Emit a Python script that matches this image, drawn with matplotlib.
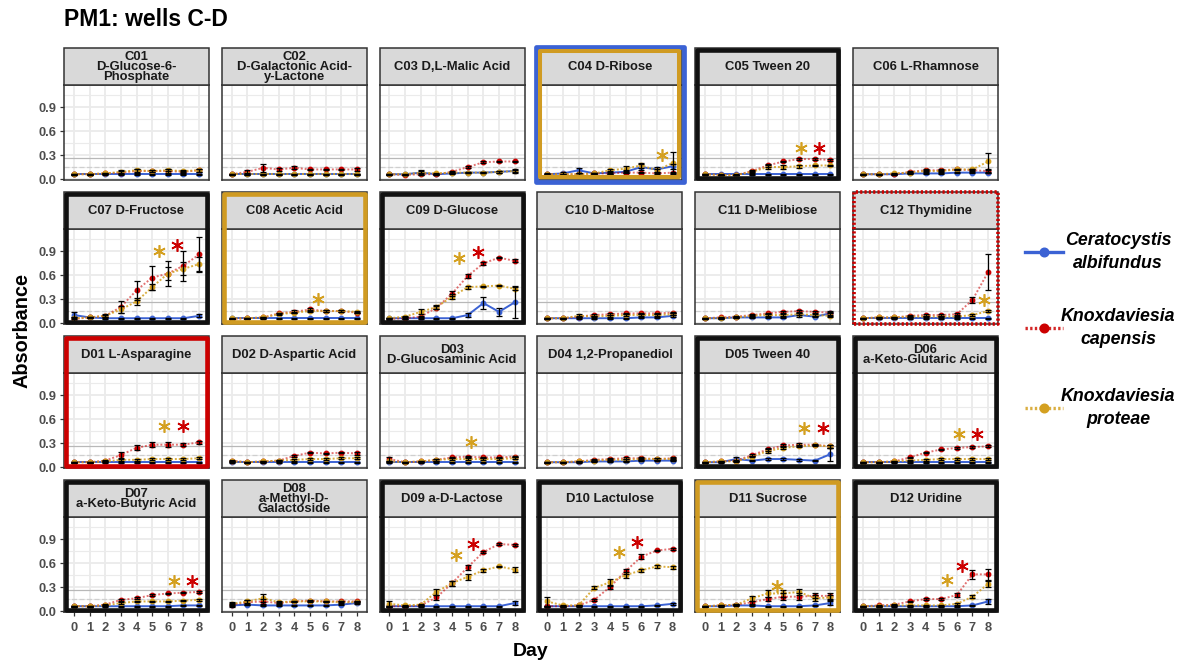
import matplotlib
matplotlib.use("Agg")
import matplotlib.pyplot as plt
from matplotlib.patches import Rectangle
from matplotlib.lines import Line2D

plt.rcParams["font.family"] = ["Liberation Sans", "DejaVu Sans"]

# ---------------------------------------------------------------- data
days = [0, 1, 2, 3, 4, 5, 6, 7, 8]

wells = ["C01", "C02", "C03", "C04", "C05", "C06",
         "C07", "C08", "C09", "C10", "C11", "C12",
         "D01", "D02", "D03", "D04", "D05", "D06",
         "D07", "D08", "D09", "D10", "D11", "D12"]

strip_labels = [
    "C01\nD-Glucose-6-\nPhosphate", "C02\nD-Galactonic Acid-\ny-Lactone",
    "C03 D,L-Malic Acid", "C04 D-Ribose", "C05 Tween 20", "C06 L-Rhamnose",
    "C07 D-Fructose", "C08 Acetic Acid", "C09 D-Glucose", "C10 D-Maltose",
    "C11 D-Melibiose", "C12 Thymidine",
    "D01 L-Asparagine", "D02 D-Aspartic Acid", "D03\nD-Glucosaminic Acid",
    "D04 1,2-Propanediol", "D05 Tween 40", "D06\na-Keto-Glutaric Acid",
    "D07\na-Keto-Butyric Acid", "D08\na-Methyl-D-\nGalactoside",
    "D09 a-D-Lactose", "D10 Lactulose", "D11 Sucrose", "D12 Uridine",
]

species = ["Ceratocystis\nalbifundus", "Knoxdaviesia\ncapensis", "Knoxdaviesia\nproteae"]

# mean absorbance per well (rows) and day (columns)
albifundus_mean = [
    [0.06, 0.06, 0.06, 0.06, 0.06, 0.06, 0.06, 0.06, 0.06],
    [0.06, 0.06, 0.06, 0.06, 0.06, 0.06, 0.06, 0.06, 0.06],
    [0.06, 0.06, 0.08, 0.06, 0.07, 0.08, 0.08, 0.09, 0.10],
    [0.06, 0.07, 0.11, 0.07, 0.08, 0.09, 0.15, 0.12, 0.16],
    [0.06, 0.06, 0.06, 0.06, 0.06, 0.06, 0.06, 0.06, 0.06],
    [0.06, 0.06, 0.06, 0.07, 0.07, 0.07, 0.08, 0.08, 0.08],
    [0.10, 0.07, 0.06, 0.06, 0.06, 0.06, 0.06, 0.06, 0.09],
    [0.06, 0.06, 0.06, 0.06, 0.06, 0.06, 0.06, 0.06, 0.06],
    [0.06, 0.06, 0.06, 0.06, 0.06, 0.10, 0.25, 0.14, 0.26],
    [0.06, 0.06, 0.06, 0.06, 0.06, 0.06, 0.07, 0.07, 0.09],
    [0.06, 0.06, 0.07, 0.07, 0.07, 0.07, 0.10, 0.08, 0.12],
    [0.06, 0.06, 0.06, 0.06, 0.06, 0.06, 0.06, 0.06, 0.06],
    [0.06, 0.06, 0.06, 0.06, 0.06, 0.06, 0.06, 0.06, 0.06],
    [0.06, 0.06, 0.06, 0.06, 0.06, 0.06, 0.06, 0.06, 0.06],
    [0.06, 0.06, 0.06, 0.06, 0.06, 0.06, 0.06, 0.06, 0.06],
    [0.06, 0.06, 0.06, 0.07, 0.07, 0.07, 0.08, 0.08, 0.08],
    [0.06, 0.06, 0.10, 0.08, 0.10, 0.10, 0.09, 0.08, 0.16],
    [0.06, 0.06, 0.06, 0.06, 0.06, 0.06, 0.06, 0.06, 0.06],
    [0.06, 0.06, 0.06, 0.06, 0.06, 0.06, 0.06, 0.07, 0.07],
    [0.07, 0.08, 0.07, 0.07, 0.07, 0.07, 0.07, 0.08, 0.10],
    [0.06, 0.06, 0.06, 0.06, 0.06, 0.06, 0.06, 0.06, 0.10],
    [0.06, 0.06, 0.06, 0.06, 0.06, 0.06, 0.06, 0.07, 0.09],
    [0.06, 0.06, 0.07, 0.07, 0.06, 0.06, 0.06, 0.07, 0.10],
    [0.06, 0.06, 0.06, 0.06, 0.06, 0.06, 0.06, 0.07, 0.12],
]
albifundus_sd = [
    [0.005, 0.005, 0.005, 0.005, 0.005, 0.005, 0.005, 0.005, 0.005],
    [0.005, 0.005, 0.005, 0.005, 0.005, 0.005, 0.005, 0.005, 0.005],
    [0.005, 0.005, 0.03, 0.005, 0.01, 0.01, 0.01, 0.01, 0.01],
    [0.01, 0.02, 0.03, 0.01, 0.02, 0.02, 0.04, 0.03, 0.03],
    [0.005, 0.005, 0.005, 0.005, 0.005, 0.005, 0.005, 0.005, 0.005],
    [0.005, 0.005, 0.005, 0.005, 0.005, 0.005, 0.005, 0.005, 0.005],
    [0.04, 0.01, 0.005, 0.005, 0.005, 0.005, 0.005, 0.005, 0.02],
    [0.005, 0.005, 0.005, 0.005, 0.005, 0.005, 0.005, 0.005, 0.005],
    [0.005, 0.005, 0.005, 0.005, 0.005, 0.02, 0.08, 0.05, 0.20],
    [0.005, 0.005, 0.005, 0.005, 0.005, 0.005, 0.005, 0.005, 0.01],
    [0.005, 0.005, 0.005, 0.005, 0.005, 0.005, 0.02, 0.01, 0.03],
    [0.005, 0.005, 0.005, 0.005, 0.005, 0.005, 0.005, 0.005, 0.005],
    [0.005, 0.005, 0.005, 0.005, 0.005, 0.005, 0.005, 0.005, 0.005],
    [0.005, 0.005, 0.005, 0.005, 0.005, 0.005, 0.005, 0.005, 0.005],
    [0.005, 0.005, 0.005, 0.005, 0.005, 0.005, 0.005, 0.005, 0.005],
    [0.005, 0.005, 0.005, 0.005, 0.005, 0.005, 0.005, 0.005, 0.005],
    [0.005, 0.005, 0.02, 0.01, 0.01, 0.01, 0.01, 0.01, 0.08],
    [0.005, 0.005, 0.005, 0.005, 0.005, 0.005, 0.005, 0.005, 0.005],
    [0.005, 0.005, 0.005, 0.005, 0.005, 0.005, 0.005, 0.005, 0.005],
    [0.02, 0.01, 0.01, 0.005, 0.005, 0.005, 0.005, 0.01, 0.01],
    [0.005, 0.005, 0.005, 0.005, 0.005, 0.005, 0.005, 0.005, 0.02],
    [0.005, 0.005, 0.005, 0.005, 0.005, 0.005, 0.005, 0.005, 0.01],
    [0.005, 0.005, 0.005, 0.005, 0.005, 0.005, 0.005, 0.005, 0.02],
    [0.005, 0.005, 0.005, 0.005, 0.005, 0.005, 0.005, 0.005, 0.03],
]

capensis_mean = [
    [0.06, 0.06, 0.07, 0.08, 0.10, 0.10, 0.10, 0.09, 0.11],
    [0.06, 0.09, 0.14, 0.12, 0.14, 0.12, 0.12, 0.12, 0.12],
    [0.06, 0.05, 0.06, 0.06, 0.09, 0.15, 0.21, 0.22, 0.22],
    [0.06, 0.06, 0.06, 0.07, 0.07, 0.08, 0.08, 0.07, 0.08],
    [0.06, 0.05, 0.05, 0.10, 0.17, 0.22, 0.25, 0.25, 0.24],
    [0.06, 0.06, 0.06, 0.09, 0.11, 0.11, 0.12, 0.11, 0.10],
    [0.05, 0.07, 0.09, 0.20, 0.41, 0.57, 0.62, 0.72, 0.86],
    [0.05, 0.06, 0.07, 0.12, 0.14, 0.17, 0.15, 0.15, 0.13],
    [0.05, 0.06, 0.08, 0.19, 0.37, 0.59, 0.75, 0.82, 0.78],
    [0.06, 0.06, 0.08, 0.10, 0.11, 0.12, 0.12, 0.12, 0.13],
    [0.06, 0.07, 0.08, 0.10, 0.12, 0.14, 0.15, 0.14, 0.13],
    [0.06, 0.07, 0.07, 0.09, 0.10, 0.10, 0.11, 0.29, 0.64],
    [0.06, 0.06, 0.08, 0.15, 0.24, 0.28, 0.28, 0.28, 0.31],
    [0.08, 0.06, 0.07, 0.08, 0.14, 0.18, 0.17, 0.18, 0.17],
    [0.10, 0.06, 0.07, 0.09, 0.12, 0.13, 0.12, 0.12, 0.13],
    [0.06, 0.06, 0.07, 0.09, 0.10, 0.11, 0.11, 0.10, 0.11],
    [0.06, 0.07, 0.08, 0.15, 0.22, 0.27, 0.28, 0.28, 0.26],
    [0.06, 0.06, 0.07, 0.12, 0.18, 0.22, 0.24, 0.25, 0.26],
    [0.06, 0.06, 0.08, 0.14, 0.16, 0.20, 0.22, 0.23, 0.24],
    [0.08, 0.11, 0.12, 0.10, 0.12, 0.13, 0.12, 0.12, 0.12],
    [0.06, 0.06, 0.07, 0.17, 0.35, 0.55, 0.74, 0.84, 0.83],
    [0.06, 0.06, 0.07, 0.14, 0.30, 0.50, 0.68, 0.76, 0.78],
    [0.06, 0.07, 0.08, 0.11, 0.15, 0.18, 0.18, 0.19, 0.19],
    [0.06, 0.07, 0.08, 0.12, 0.15, 0.15, 0.20, 0.46, 0.46],
]
capensis_sd = [
    [0.005, 0.005, 0.01, 0.02, 0.02, 0.01, 0.02, 0.01, 0.02],
    [0.005, 0.02, 0.05, 0.02, 0.02, 0.01, 0.01, 0.01, 0.02],
    [0.005, 0.005, 0.01, 0.005, 0.01, 0.01, 0.01, 0.01, 0.01],
    [0.005, 0.005, 0.01, 0.01, 0.01, 0.01, 0.01, 0.01, 0.01],
    [0.005, 0.005, 0.005, 0.01, 0.02, 0.01, 0.01, 0.01, 0.01],
    [0.005, 0.005, 0.005, 0.01, 0.01, 0.01, 0.01, 0.01, 0.02],
    [0.02, 0.01, 0.02, 0.07, 0.12, 0.15, 0.16, 0.19, 0.22],
    [0.005, 0.005, 0.01, 0.01, 0.02, 0.02, 0.01, 0.01, 0.01],
    [0.01, 0.01, 0.01, 0.02, 0.03, 0.02, 0.02, 0.01, 0.02],
    [0.005, 0.005, 0.01, 0.01, 0.01, 0.01, 0.01, 0.01, 0.01],
    [0.005, 0.005, 0.01, 0.01, 0.01, 0.01, 0.01, 0.01, 0.01],
    [0.005, 0.005, 0.005, 0.01, 0.01, 0.01, 0.01, 0.04, 0.22],
    [0.005, 0.005, 0.01, 0.04, 0.03, 0.03, 0.03, 0.02, 0.02],
    [0.01, 0.005, 0.01, 0.01, 0.01, 0.01, 0.01, 0.01, 0.02],
    [0.03, 0.005, 0.005, 0.01, 0.01, 0.01, 0.01, 0.01, 0.01],
    [0.005, 0.005, 0.005, 0.01, 0.01, 0.01, 0.01, 0.01, 0.01],
    [0.005, 0.005, 0.01, 0.01, 0.02, 0.02, 0.02, 0.01, 0.02],
    [0.005, 0.005, 0.005, 0.01, 0.01, 0.01, 0.01, 0.01, 0.01],
    [0.005, 0.005, 0.01, 0.01, 0.01, 0.01, 0.01, 0.01, 0.01],
    [0.02, 0.03, 0.03, 0.01, 0.01, 0.01, 0.01, 0.01, 0.01],
    [0.005, 0.005, 0.01, 0.03, 0.03, 0.03, 0.01, 0.01, 0.01],
    [0.005, 0.005, 0.01, 0.01, 0.03, 0.03, 0.03, 0.01, 0.01],
    [0.005, 0.005, 0.01, 0.02, 0.03, 0.04, 0.04, 0.03, 0.04],
    [0.005, 0.005, 0.01, 0.01, 0.01, 0.01, 0.02, 0.06, 0.07],
]

proteae_mean = [
    [0.06, 0.06, 0.07, 0.09, 0.11, 0.10, 0.11, 0.10, 0.11],
    [0.06, 0.06, 0.06, 0.06, 0.06, 0.06, 0.06, 0.06, 0.06],
    [0.06, 0.06, 0.08, 0.07, 0.08, 0.08, 0.08, 0.09, 0.10],
    [0.06, 0.06, 0.06, 0.07, 0.11, 0.13, 0.17, 0.11, 0.20],
    [0.06, 0.05, 0.05, 0.09, 0.15, 0.15, 0.16, 0.17, 0.17],
    [0.06, 0.06, 0.07, 0.08, 0.10, 0.10, 0.12, 0.12, 0.22],
    [0.06, 0.07, 0.09, 0.17, 0.27, 0.45, 0.62, 0.68, 0.74],
    [0.06, 0.06, 0.07, 0.11, 0.13, 0.15, 0.15, 0.15, 0.14],
    [0.06, 0.08, 0.14, 0.20, 0.33, 0.45, 0.46, 0.47, 0.43],
    [0.06, 0.06, 0.09, 0.08, 0.09, 0.10, 0.10, 0.10, 0.11],
    [0.06, 0.06, 0.07, 0.09, 0.10, 0.10, 0.11, 0.10, 0.09],
    [0.06, 0.07, 0.07, 0.08, 0.08, 0.08, 0.08, 0.10, 0.15],
    [0.06, 0.06, 0.07, 0.09, 0.09, 0.10, 0.10, 0.10, 0.11],
    [0.07, 0.06, 0.07, 0.08, 0.09, 0.10, 0.10, 0.11, 0.11],
    [0.07, 0.06, 0.07, 0.09, 0.10, 0.10, 0.10, 0.10, 0.11],
    [0.06, 0.06, 0.07, 0.08, 0.09, 0.09, 0.10, 0.10, 0.10],
    [0.06, 0.07, 0.07, 0.13, 0.20, 0.24, 0.26, 0.27, 0.26],
    [0.06, 0.06, 0.07, 0.08, 0.09, 0.10, 0.10, 0.10, 0.10],
    [0.06, 0.06, 0.07, 0.10, 0.12, 0.12, 0.12, 0.13, 0.14],
    [0.09, 0.12, 0.16, 0.11, 0.12, 0.12, 0.12, 0.11, 0.11],
    [0.09, 0.07, 0.08, 0.24, 0.35, 0.43, 0.51, 0.56, 0.52],
    [0.12, 0.07, 0.07, 0.29, 0.36, 0.45, 0.51, 0.56, 0.55],
    [0.06, 0.07, 0.08, 0.16, 0.22, 0.22, 0.24, 0.16, 0.17],
    [0.06, 0.06, 0.07, 0.07, 0.07, 0.07, 0.09, 0.18, 0.34],
]
proteae_sd = [
    [0.005, 0.005, 0.01, 0.02, 0.02, 0.01, 0.01, 0.01, 0.02],
    [0.005, 0.005, 0.005, 0.005, 0.005, 0.005, 0.005, 0.005, 0.005],
    [0.005, 0.005, 0.02, 0.01, 0.01, 0.01, 0.01, 0.01, 0.02],
    [0.005, 0.005, 0.01, 0.01, 0.02, 0.03, 0.03, 0.02, 0.14],
    [0.005, 0.005, 0.005, 0.01, 0.02, 0.02, 0.02, 0.01, 0.01],
    [0.005, 0.005, 0.005, 0.01, 0.01, 0.01, 0.01, 0.01, 0.11],
    [0.01, 0.01, 0.01, 0.04, 0.04, 0.04, 0.08, 0.08, 0.09],
    [0.005, 0.005, 0.01, 0.01, 0.01, 0.01, 0.01, 0.01, 0.01],
    [0.005, 0.01, 0.03, 0.02, 0.03, 0.02, 0.01, 0.01, 0.02],
    [0.005, 0.005, 0.02, 0.01, 0.01, 0.01, 0.01, 0.01, 0.01],
    [0.005, 0.005, 0.01, 0.01, 0.01, 0.01, 0.01, 0.01, 0.01],
    [0.005, 0.005, 0.005, 0.01, 0.01, 0.01, 0.01, 0.01, 0.01],
    [0.005, 0.005, 0.01, 0.01, 0.01, 0.01, 0.01, 0.01, 0.01],
    [0.005, 0.005, 0.005, 0.01, 0.01, 0.01, 0.01, 0.01, 0.01],
    [0.005, 0.005, 0.005, 0.01, 0.01, 0.01, 0.01, 0.01, 0.01],
    [0.005, 0.005, 0.005, 0.01, 0.01, 0.01, 0.01, 0.01, 0.01],
    [0.005, 0.005, 0.01, 0.01, 0.02, 0.02, 0.01, 0.01, 0.02],
    [0.005, 0.005, 0.005, 0.01, 0.01, 0.01, 0.01, 0.01, 0.01],
    [0.005, 0.005, 0.005, 0.01, 0.01, 0.01, 0.01, 0.01, 0.01],
    [0.02, 0.02, 0.05, 0.01, 0.01, 0.01, 0.01, 0.01, 0.01],
    [0.04, 0.01, 0.01, 0.04, 0.03, 0.04, 0.02, 0.01, 0.03],
    [0.06, 0.01, 0.01, 0.02, 0.04, 0.04, 0.02, 0.02, 0.02],
    [0.005, 0.005, 0.01, 0.03, 0.04, 0.04, 0.04, 0.04, 0.03],
    [0.005, 0.005, 0.005, 0.01, 0.01, 0.01, 0.01, 0.02, 0.04],
]

# wells with a highlighted frame and the kind of frame
frame_wells = ["C04", "C05", "C07", "C08", "C09", "C12", "D01",
               "D05", "D06", "D07", "D09", "D10", "D11", "D12"]
frame_kinds = ["blue_gold", "black", "black", "gold", "black", "red_dotted", "red",
               "black", "black", "black", "black", "black", "gold", "black"]

# significance markers: well, species index, day position, absorbance level
star_wells = ["C04", "C05", "C05", "C07", "C07", "C08", "C09", "C09", "C12",
              "D01", "D01", "D03", "D05", "D05", "D06", "D06", "D07", "D07",
              "D09", "D09", "D10", "D10", "D11", "D12", "D12"]
star_species = [2, 2, 1, 2, 1, 2, 2, 1, 2,
                2, 1, 2, 2, 1, 2, 1, 2, 1,
                2, 1, 2, 1, 2, 2, 1]
star_day = [7.3, 6.1, 7.3, 5.45, 6.6, 5.5, 4.45, 5.65, 7.75,
            5.75, 6.95, 5.2, 6.35, 7.55, 6.15, 7.3, 6.4, 7.55,
            4.25, 5.35, 4.6, 5.75, 4.6, 5.35, 6.3]
star_level = [0.30, 0.39, 0.39, 0.90, 0.98, 0.305, 0.81, 0.89, 0.285,
              0.51, 0.51, 0.31, 0.49, 0.49, 0.41, 0.41, 0.38, 0.38,
              0.70, 0.84, 0.74, 0.87, 0.31, 0.39, 0.57]

# ---------------------------------------------------------------- style
BLUE = "#3B62D4"
RED = "#CC0000"
GOLD = "#D4A020"
colors = [BLUE, RED, GOLD]
line_styles = ["-", (0, (1.0, 1.0)), (0, (1.0, 1.0))]
line_alpha = [1.0, 0.55, 0.85]
frame_colors = {"black": "#111111", "gold": "#D09B22", "red": "#CC0000"}

W, H = 1188, 661
fig = plt.figure(figsize=(W / 100, H / 100), dpi=100)
fig.patch.set_facecolor("white")

col_left = [64, 221.8, 379.6, 537.4, 695.2, 853]
row_top = [48, 192, 336, 480]
PW, SH, PH = 145, 37, 95


def box(x, y, w, h):
    """pixel box (top-left origin) -> figure-fraction rectangle"""
    return [x / W, 1 - (y + h) / H, w / W, h / H]


def frame(x, y, w, h, **kw):
    b = box(x, y, w, h)
    fig.add_artist(Rectangle((b[0], b[1]), b[2], b[3], transform=fig.transFigure,
                             fill=False, joinstyle="round", zorder=20, **kw))


means = [albifundus_mean, capensis_mean, proteae_mean]
sds = [albifundus_sd, capensis_sd, proteae_sd]

for i, well in enumerate(wells):
    r, c = divmod(i, 6)
    L, T = col_left[c], row_top[r]
    ax = fig.add_axes(box(L, T + SH, PW, PH))
    ax.set_xlim(-0.63, 8.63)
    ax.set_ylim(-0.0125, 1.18)
    ax.set_xticks(days)
    ax.set_yticks([0, 0.3, 0.6, 0.9])
    ax.set_yticks([0.15, 0.45, 0.75, 1.05], minor=True)
    ax.grid(which="major", color="#EBEBEB", lw=1.3)
    ax.grid(which="minor", axis="y", color="#EBEBEB", lw=0.8)
    ax.set_axisbelow(True)
    for sp in ax.spines.values():
        sp.set_color("#333333")
        sp.set_linewidth(1.1)
    ax.tick_params(which="minor", left=False, bottom=False)
    ax.tick_params(which="major", color="#333333", length=3, width=0.9,
                   labelsize=9.3, labelcolor="#4D4D4D")
    ax.tick_params(axis="y", pad=2.5)
    ax.tick_params(axis="x", pad=4)
    if c == 0:
        ax.set_yticklabels(["0.0", "0.3", "0.6", "0.9"], fontweight="bold")
    else:
        ax.tick_params(left=False, labelleft=False)
    if r == 3:
        ax.set_xticklabels([str(d) for d in days], fontweight="bold")
    else:
        ax.tick_params(bottom=False, labelbottom=False)

    # reference levels
    ax.axhline(0.26, color="#B8B8B8", lw=0.9, zorder=1)
    ax.axhline(0.15, color="#CFCFCF", lw=0.9, ls=(0, (4, 2)), zorder=1)

    for s in range(3):
        m = means[s][i]
        e = sds[s][i]
        ax.plot(days, m, color=colors[s], ls=line_styles[s], lw=1.4,
                alpha=line_alpha[s], zorder=3 + s)
        ax.plot(days, m, ls="none", marker="o", ms=3.2, color=colors[s],
                mec=colors[s], zorder=6 + s)
        ax.errorbar(days, m, yerr=e, fmt="none", ecolor="black",
                    elinewidth=0.9, capsize=2, capthick=0.9, zorder=9 + s)

    for w_, sp_, d_, lv_ in zip(star_wells, star_species, star_day, star_level):
        if w_ == well:
            ax.plot([d_], [lv_], ls="none", marker=(6, 2, 0), ms=9,
                    mew=1.2, color=colors[sp_], zorder=12)

    # facet strip
    sb = box(L, T, PW, SH)
    fig.add_artist(Rectangle((sb[0], sb[1]), sb[2], sb[3], transform=fig.transFigure,
                             facecolor="#D9D9D9", edgecolor="#333333", lw=1.1, zorder=5))
    fig.text((L + PW / 2) / W, 1 - (T + SH / 2 + 0.5) / H, strip_labels[i],
             ha="center", va="center", ma="center", fontsize=9.4,
             fontweight="bold", color="#1A1A1A", linespacing=0.82, zorder=6)

    # highlighted frames
    if well in frame_wells:
        kind = frame_kinds[frame_wells.index(well)]
        full_h = SH + PH
        if kind == "blue_gold":
            o = 1.5
            frame(L - o, T - o, PW + 2 * o, full_h + 2 * o, edgecolor=BLUE, lw=3.4)
            n = 3.0
            frame(L + n, T + n, PW - 2 * n, full_h - 2 * n, edgecolor="#D09B22", lw=2.9)
        elif kind == "red_dotted":
            frame(L + 0.5, T + 0.5, PW - 1, full_h - 1, edgecolor=RED, lw=2.6,
                  linestyle=(0, (0.6, 0.6)))
        else:
            n = 2.0
            frame(L + n, T + n, PW - 2 * n, full_h - 2 * n,
                  edgecolor=frame_colors[kind], lw=3.3)

# titles
fig.text(64 / W, 1 - 20 / H, "PM1: wells C-D", ha="left", va="center",
         fontsize=16.5, fontweight="bold", color="black")
fig.text(22 / W, 1 - 331 / H, "Absorbance", rotation=90, ha="center", va="center",
         fontsize=14.3, fontweight="bold", color="black")
fig.text(531 / W, 1 - 651 / H, "Day", ha="center", va="center",
         fontsize=14, fontweight="bold", color="black")

# legend
legend_y = [252, 328, 408]
for s in range(3):
    fy = 1 - legend_y[s] / H
    ls = "-" if s == 0 else (0, (0.7, 0.7))
    fig.add_artist(Line2D([1025 / W, 1063 / W], [fy, fy], transform=fig.transFigure,
                          color=colors[s], lw=2.4, ls=ls,
                          alpha=1.0 if s == 0 else 0.85))
    fig.add_artist(Line2D([1044 / W], [fy], transform=fig.transFigure, ls="none",
                          marker="o", ms=6.2, color=colors[s]))
    fig.text(1118 / W, fy, species[s], ha="center", va="center", ma="center",
             fontsize=12.8, fontweight="bold", fontstyle="italic", color="black",
             linespacing=1.5)

fig.savefig("out.png", dpi=100, facecolor="white")
